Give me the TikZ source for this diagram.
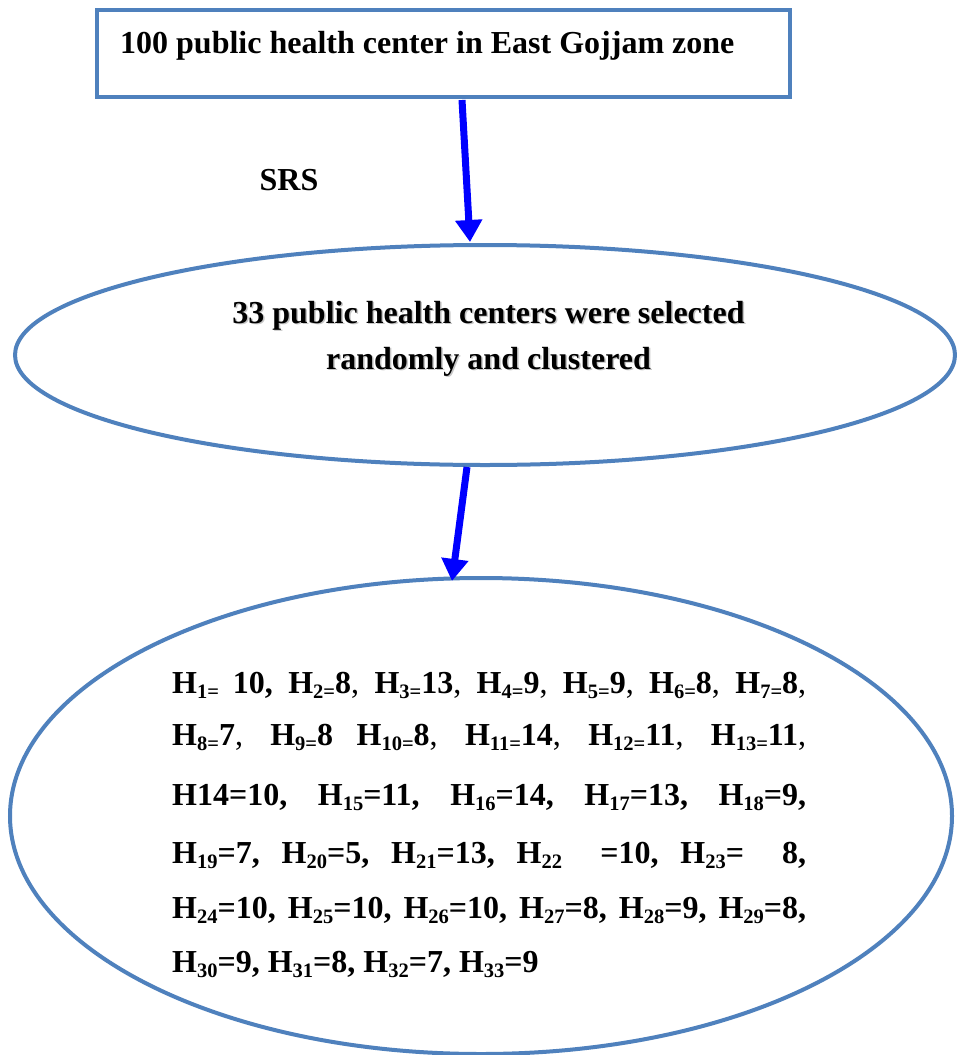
\documentclass[tikz,border=0pt]{standalone}
\usepackage{fontspec}
\setmainfont{Liberation Serif}
\usetikzlibrary{shapes.geometric,arrows.meta}
\definecolor{frame}{RGB}{79,129,189}
\definecolor{arrblue}{RGB}{0,0,255}
\newcommand\Hs[1]{H\raisebox{-5.5pt}{\fontsize{20.5}{20.5}\selectfont #1}}
\newcommand\cm{\textmd{,}}
\newcommand\jline[1]{\makebox[634pt][s]{#1}}
\begin{document}
\begin{tikzpicture}[x=1pt,y=-1pt,
 shapeline/.style={draw=frame,line width=4pt,inner sep=0pt},
 txt/.style={font=\fontsize{32}{38}\selectfont\bfseries,inner sep=0pt},
 shadowtxt/.style={txt,text=gray!45},
 arr/.style={draw=arrblue,line width=7pt,-{Triangle[width=26pt,length=22pt]}}]
\useasboundingbox (0,0) rectangle (956,1055);
\fill[white] (0,0) rectangle (956,1055);
% top box
\node[shapeline,rectangle,minimum width=693pt,minimum height=87pt] (top) at (443.5,53.5) {};
\node[txt,anchor=base west] (toptxt) at (120,53) {100 public health center in East Gojjam zone};
% SRS label
\node[txt,anchor=base] (srs) at (289,190) {SRS};
% ellipse 1
\node[shapeline,ellipse,minimum width=940pt,minimum height=220pt] (e1) at (485,355) {};
\node[shadowtxt,anchor=base] (e1s1) at (490,324.5) {33 public health centers were selected};
\node[shadowtxt,anchor=base] (e1s2) at (490,370.5) {randomly and clustered};
\node[txt,anchor=base] (e1t1) at (488.5,323) {33 public health centers were selected};
\node[txt,anchor=base] (e1t2) at (488.5,369) {randomly and clustered};
% ellipse 2
\node[shapeline,ellipse,minimum width=942pt,minimum height=476pt] (e2) at (481,816) {};
\node[txt,anchor=base west] (l1) at (172,693) {\jline{\Hs{1=}\ 10, \Hs{2=}8\cm{} \Hs{3=}13\cm{} \Hs{4=}9\cm{} \Hs{5=}9\cm{} \Hs{6=}8\cm{} \Hs{7=}8\cm}};
\node[txt,anchor=base west] (l2) at (172,745) {\jline{\Hs{8=}7\cm{} \Hs{9=}8 \Hs{10=}8\cm{} \Hs{11=}14\cm{} \Hs{12=}11\cm{} \Hs{13=}11\cm}};
\node[txt,anchor=base west] (l3) at (172,805) {\jline{H14=10, \Hs{15}=11, \Hs{16}=14, \Hs{17}=13, \Hs{18}=9,}};
\node[txt,anchor=base west] (l4) at (172,863) {\jline{\Hs{19}=7, \Hs{20}=5, \Hs{21}=13, \Hs{22}\ \ =10, \Hs{23}=\ \ 8,}};
\node[txt,anchor=base west] (l5) at (172,918) {\jline{\Hs{24}=10, \Hs{25}=10, \Hs{26}=10, \Hs{27}=8, \Hs{28}=9, \Hs{29}=8,}};
\node[txt,anchor=base west] (l6) at (172,972) {\Hs{30}=9, \Hs{31}=8, \Hs{32}=7, \Hs{33}=9};
% arrows
\coordinate (a1s) at (462,100);
\coordinate (a1e) at (470,242);
\coordinate (a2s) at (467,467);
\coordinate (a2e) at (452,581);
\draw[arr] (a1s) -- (a1e);
\draw[arr] (a2s) -- (a2e);
\end{tikzpicture}
\end{document}
